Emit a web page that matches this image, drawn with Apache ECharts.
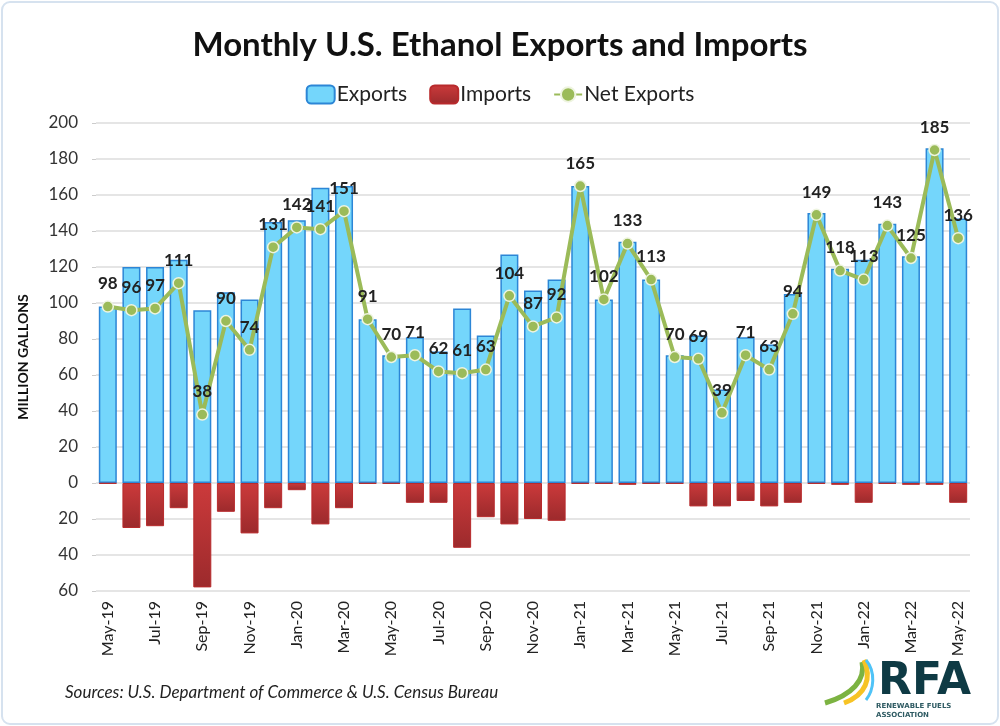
<!DOCTYPE html>
<html>
<head>
<meta charset="utf-8">
<script src="https://cdn.jsdelivr.net/npm/echarts@6/dist/echarts.min.js"></script>
<style>
  html, body { margin: 0; padding: 0; background: #fff; }
  #chart { width: 1000px; height: 726px; }
</style>
</head>
<body>
<div id="chart"></div>
<script>
// monthly data, million gallons
const months = [
  "May-19", "Jun-19", "Jul-19", "Aug-19", "Sep-19", "Oct-19", "Nov-19", "Dec-19",
  "Jan-20", "Feb-20", "Mar-20", "Apr-20", "May-20", "Jun-20", "Jul-20", "Aug-20",
  "Sep-20", "Oct-20", "Nov-20", "Dec-20", "Jan-21", "Feb-21", "Mar-21", "Apr-21",
  "May-21", "Jun-21", "Jul-21", "Aug-21", "Sep-21", "Oct-21", "Nov-21", "Dec-21",
  "Jan-22", "Feb-22", "Mar-22", "Apr-22", "May-22"
];
const exportsData = [
  98, 120, 120, 124, 96, 106, 102, 145, 146, 164, 165, 91, 71, 81, 73, 97,
  82, 127, 107, 113, 165, 102, 134, 113, 71, 82, 52, 81, 77, 105, 150, 119,
  124, 144, 126, 186, 147
];
const importsData = [
  0.4, 25, 24, 14, 58, 16, 28, 14, 4, 23, 14, 0.4, 0.4, 11, 11, 36,
  19, 23, 20, 21, 0.4, 0.4, 1, 0.4, 0.4, 13, 13, 10, 13, 11, 0.4, 1,
  11, 0.4, 1, 1, 11
];
const netExports = [
  98, 96, 97, 111, 38, 90, 74, 131, 142, 141, 151, 91, 70, 71, 62, 61,
  63, 104, 87, 92, 165, 102, 133, 113, 70, 69, 39, 71, 63, 94, 149, 118,
  113, 143, 125, 185, 136
];

const chart = echarts.init(document.getElementById("chart"));
const FONT = "Lato, 'Open Sans', sans-serif";

const option = {
  animation: false,
  textStyle: { fontFamily: FONT },
  title: {
    text: "Monthly U.S. Ethanol Exports and Imports",
    left: "center",
    top: 24,
    textStyle: { fontSize: 33, fontWeight: "bold", color: "#111", fontFamily: FONT }
  },
  legend: {
    top: 79,
    left: "center",
    itemGap: 22,
    itemWidth: 28,
    itemHeight: 18,
    textStyle: { fontSize: 21, color: "#222", padding: [0, 0, 0, -3] },
    data: ["Exports", "Imports", "Net Exports"]
  },
  grid: { left: 96, right: 30, top: 123, bottom: 135 },
  xAxis: {
    type: "category",
    data: months,
    axisLine: { onZero: false, show: false },
    axisTick: { show: false },
    axisLabel: {
      rotate: 90,
      interval: 1,
      fontSize: 16,
      color: "#222",
      margin: 10
    }
  },
  yAxis: {
    type: "value",
    min: -60,
    max: 200,
    interval: 20,
    name: "MILLION GALLONS",
    nameLocation: "middle",
    nameGap: 66,
    nameRotate: 90,
    nameTextStyle: { fontSize: 14, fontWeight: "bold", color: "#111" },
    axisLine: { show: false },
    axisTick: { show: true, length: 4, lineStyle: { color: "#ccc" } },
    axisLabel: {
      fontSize: 17,
      color: "#333",
      margin: 18,
      formatter: (v) => String(Math.abs(v))
    },
    splitLine: { lineStyle: { color: "#dcdcdc", width: 1.5 } }
  },
  series: [
    {
      name: "Exports",
      type: "bar",
      data: exportsData,
      barWidth: 18,
      barGap: "-100%",
      itemStyle: {
        color: "#74d6fb",
        borderColor: "#2c86d6",
        borderWidth: 1.5
      }
    },
    {
      name: "Imports",
      type: "bar",
      data: importsData.map((v) => -v),
      barWidth: 18,
      itemStyle: {
        color: new echarts.graphic.LinearGradient(0, 0, 0, 1, [
          { offset: 0, color: "#cc3a3b" },
          { offset: 1, color: "#9c2a2c" }
        ]),
        borderColor: "#b82a2c",
        borderWidth: 1
      }
    },
    {
      name: "Net Exports",
      type: "line",
      data: netExports,
      symbol: "circle",
      symbolSize: 11,
      lineStyle: { color: "#9bbb59", width: 4 },
      itemStyle: { color: "#9bbb59", borderColor: "#eef4e0", borderWidth: 1.5 },
      label: {
        show: true,
        position: "top",
        distance: 8,
        fontSize: 17,
        fontWeight: "bold",
        color: "#222"
      },
      z: 5
    }
  ],
  graphic: [
    {
      type: "rect",
      shape: { x: 2, y: 2, width: 996, height: 722, r: 8 },
      style: { fill: "none", stroke: "#d6e2ef", lineWidth: 2 },
      silent: true
    },
    {
      type: "text",
      left: 65,
      top: 684,
      style: {
        text: "Sources: U.S. Department of Commerce & U.S. Census Bureau",
        font: "italic 17px " + FONT,
        fill: "#222"
      }
    },
    // RFA logo
    {
      type: "bezierCurve",
      shape: { x1: 825, y1: 703, x2: 862, y2: 662, cpx1: 852, cpy1: 695, cpx2: 866, cpy2: 680 },
      style: { stroke: "#7cb342", lineWidth: 5, fill: "none" }
    },
    {
      type: "bezierCurve",
      shape: { x1: 844, y1: 703, x2: 864, y2: 660, cpx1: 866, cpy1: 695, cpx2: 872, cpy2: 678 },
      style: { stroke: "#f7c325", lineWidth: 5, fill: "none" }
    },
    {
      type: "bezierCurve",
      shape: { x1: 866, y1: 700, x2: 866, y2: 660, cpx1: 874, cpy1: 690, cpx2: 876, cpy2: 672 },
      style: { stroke: "#4fc3f7", lineWidth: 3, fill: "none" }
    },
    {
      type: "text",
      left: 878,
      top: 661,
      style: { text: "RFA", font: "900 44px 'DejaVu Sans', sans-serif", fill: "#0e3a44" }
    },
    {
      type: "text",
      left: 876,
      top: 702,
      style: {
        text: "RENEWABLE FUELS\nASSOCIATION",
        font: "bold 7px 'DejaVu Sans', sans-serif",
        fill: "#2f5b63",
        lineHeight: 9
      }
    }
  ]
};

chart.setOption(option);
</script>
</body>
</html>
